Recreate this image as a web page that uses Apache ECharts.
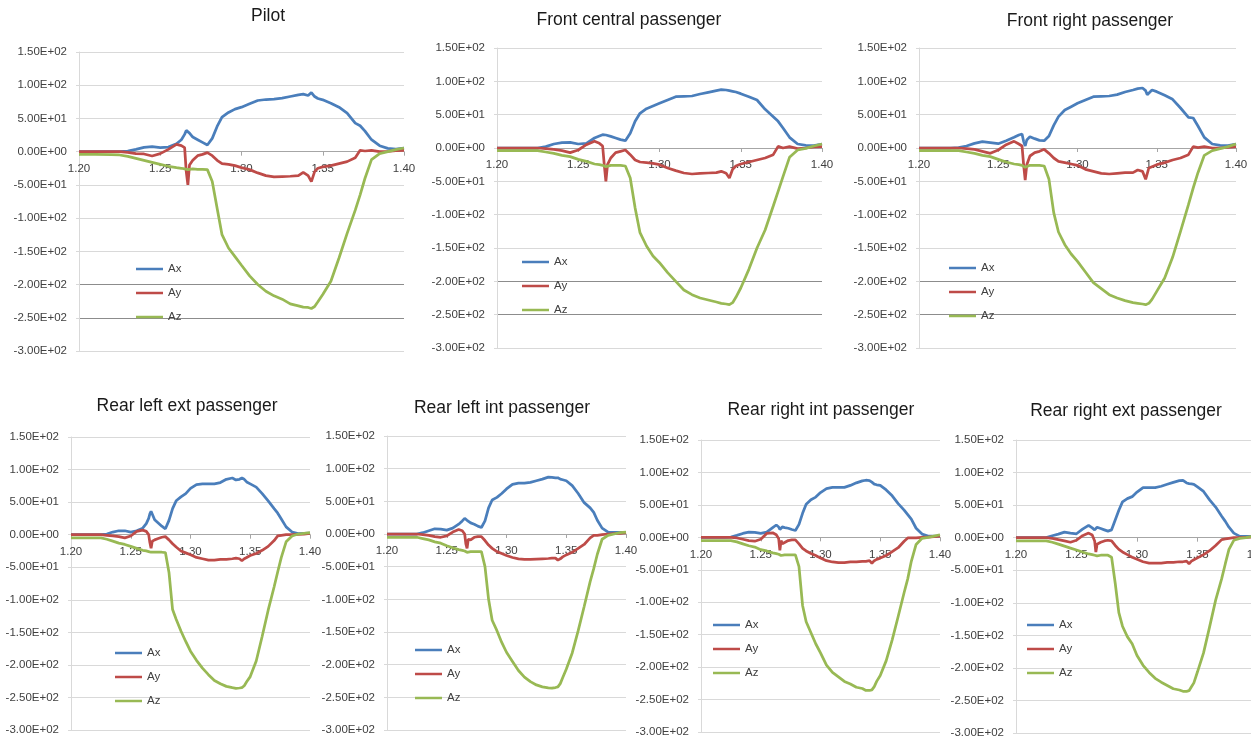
<!DOCTYPE html>
<html>
<head>
<meta charset="utf-8">
<title>Accelerations per seat</title>
<script src="https://cdn.jsdelivr.net/npm/echarts@6/dist/echarts.min.js"></script>
<style>
  html, body { margin: 0; padding: 0; background: #fff; }
  #main { width: 1251px; height: 738px; }
</style>
</head>
<body>
<div id="main"></div>
<script>
// time (s), shared by all panels
const t = [1.200,1.210,1.220,1.225,1.230,1.235,1.240,1.245,1.250,1.255,1.260,1.263,1.265,1.266,1.267,1.268,1.270,1.273,1.276,1.279,
  1.282,1.285,1.288,1.292,1.296,1.300,1.305,1.310,1.315,1.320,1.325,1.330,1.335,1.338,1.341,1.343,1.344,1.345,1.347,1.350,
  1.355,1.360,1.365,1.370,1.373,1.376,1.380,1.385,1.390,1.395,1.400];

const xTicks = [1.20, 1.25, 1.30, 1.35, 1.40];
const xTickLabels = ["1.20", "1.25", "1.30", "1.35", "1.40"];
const yTicks = [-300, -250, -200, -150, -100, -50, 0, 50, 100, 150];
const yTickLabels = ["-3.00E+02", "-2.50E+02", "-2.00E+02", "-1.50E+02", "-1.00E+02", "-5.00E+01", "0.00E+00", "5.00E+01", "1.00E+02", "1.50E+02"];

const seriesNames = ["Ax", "Ay", "Az"];
const titles = ["Pilot", "Front central passenger", "Front right passenger", "Rear left ext passenger",
  "Rear left int passenger", "Rear right int passenger", "Rear right ext passenger"];

// Pilot
const pilotAx = [0,0,0,0,1,3.5,6.5,7.5,6,7,12,18,26,32,34,28,22,18,14,10,20,38,52,59,64,67,72,77,78.5,79,80.5,83,85.5,86.5,84.5,89,88,83,80,78,73,67,58,43,39,31,18,9,5,4,5.5];
const pilotAy = [0,0,0,0,-1,-3,-3.5,-6.5,-3,3.5,11,9,6,-30,-50,-20,-13,-6,-4,-1.5,-6,-13,-18,-19,-21,-24,-27,-32,-36,-38,-37.5,-37,-36,-31,-36,-45,-48,-30,-25,-23,-21,-18,-15,-9,2,1,2,0,0.5,1.5,2];
const pilotAz = [-4,-4,-4.5,-5,-7,-10,-13,-16,-19,-22,-24,-25,-26,-28,-27,-26,-26,-26.5,-26.5,-27,-45,-85,-125,-145,-158,-171,-187,-200,-210,-217,-222,-229,-232,-234,-234.5,-236,-236,-233,-226,-215,-195,-160,-123,-88,-65,-40,-12,-3,0,3,5.5];

// Front central passenger
const frontCentralAx = [0,0,0,0,2,6,8,8.5,6,7,15,18,20,20,19.5,19,17.5,15,12.5,11,22,40,52,59,63,67,72,77,77.5,78,81,83.5,86,87.5,87,86,85.5,85,84,81.5,77,72,58,47,40,30,16,6,4,3.5,6];
const frontCentralAy = [0,0,0,0,-1,-2,-4,-7,-3,5,10,7,3,-25,-50,-25,-15,-7,-5,-3,-10,-18,-21,-22,-23,-25,-30,-34,-37.5,-39,-38,-37.5,-37,-35,-38,-45,-48,-32,-27,-24,-21,-18,-15,-10,2.5,0,2,-1,0,1.5,2];
const frontCentralAz = [-4,-4,-4,-4,-6,-8,-11,-13,-17,-20,-24,-25,-26,-27,-28,-27,-26,-26,-26,-27,-45,-90,-127,-147,-162,-172,-187,-200,-213,-220,-225,-228,-231,-233,-234,-235,-235,-232,-224,-210,-182,-150,-123,-87,-65,-43,-14,-3,-0.5,3,6];

// Front right passenger
const frontRightAx = [0,0,0,0.5,3,7,9.5,8,6.5,11,16,19.5,21,10,3,12,17,14,11.5,11,18,34,47,57,62,67,72,77,77.5,78,80,84,87,89,90,86,80,82,87,84.5,79,73,60,46,45,33,16,6,4,3.5,6];
const frontRightAy = [0,0,0,0,-1,-2,-5,-8,-3,5,10,6,3,-25,-48,-25,-12,-7,-5,-2,-8,-15,-20,-22,-24,-26,-32,-35,-38,-39,-38,-37,-37,-33,-35,-47,-45,-30,-28,-25,-22,-18,-15,-10,2,0.5,2,0,0,1,2];
const frontRightAz = [-4,-4,-4,-4,-6,-8,-11,-13,-17,-21,-24,-25,-26,-28,-29,-27,-26,-26,-26,-27,-47,-97,-126,-145,-159,-170,-186,-202,-211,-220,-225,-229,-232,-233,-234,-235,-235,-233,-227,-215,-195,-164,-125,-85,-60,-37,-11,-4,-1,2,6];

// Rear left ext passenger
const rearLeftExtAx = [0,0,0,0,1,4,6,6,4,6,10,17,25,32,36,33,23,18,13,9,22,40,52,58,63,71,77,78,78,78,80,85,87,84,85,87,88,85,81,78,73,63,52,40,33,24,12,4,1.5,2,2.5];
const rearLeftExtAy = [0,0,0,0,-1,-2,-3,-5,-2,5,7,5,0,-12,-21,-10,-8,-6,-4,-3,-8,-14,-19,-25,-28,-31,-35,-37,-39,-39,-38,-38,-37,-36,-37,-40,-41,-37,-35,-32,-29,-24,-18,-9,-2,-1,0,0,0.5,1,2];
const rearLeftExtAz = [-5,-5,-5,-5,-7,-10,-13,-15,-18,-21,-24,-25,-26,-26.5,-27,-27,-27,-27,-27,-27.5,-58,-115,-130,-148,-164,-179,-193,-205,-215,-224,-229,-233,-235,-236,-235.5,-235,-234,-232,-226,-218,-194,-156,-116,-80,-57,-35,-11,-2,1,2,3];

// Rear left int passenger
const rearLeftIntAx = [0,0,0,0,2,5,8,7.5,6,9,15,20,24,23,21,19,17,15,12,10,20,40,52,56,62,69,76,78,78,79,81.5,84,87,86.5,86,86,85,84,83,81.5,74,62,48,40,33,21,9,3,2.5,2.5,2.5];
const rearLeftIntAy = [0,0,0,0,-1,-2,-4,-5,-3,3,7,5,0,-15,-22,-8,-9,-5,-4,-4,-10,-17,-22,-27,-30,-33,-36,-38,-39,-39,-38.5,-38,-37.5,-37,-37,-40,-42,-38,-35,-32,-28,-22,-16,-6,-2,-2,-1,0,0.5,1,2];
const rearLeftIntAz = [-5,-5,-5,-5,-7,-9,-12,-14,-18,-21,-24,-25,-26,-27,-28,-27,-27,-27,-27,-27,-50,-100,-132,-148,-166,-181,-195,-209,-219,-226,-231,-234,-235.5,-236,-235,-234,-232,-229,-220,-207,-182,-148,-111,-73,-53,-31,-8,-2,0,2,3];

// Rear right int passenger
const rearRightIntAx = [0,0,0,0.5,3,6,8,7.5,6,8,15,19,16,12,15,16,15,14,12,10.5,20,37,51,58,62,69,75,77,77,77,80,84,87,88,87.5,85,83,82,81,80,73,64,52,42,35,28,14,5,2,2,2];
const rearRightIntAy = [0,0,0,0,-1,-3,-5,-6,-3,6,7,4,-2,-20,-5,-10,-8,-5,-4,-4,-10,-17,-21,-25,-28,-32,-36,-38,-39,-39,-38,-38,-37,-37,-36,-40,-41,-36,-34,-32,-28,-22,-16,-6,-1,-1,-1,0,0.5,1,2];
const rearRightIntAz = [-5,-5,-5,-5,-7,-10,-13,-15,-19,-21,-24,-25,-26,-27,-28,-27,-27,-27,-27,-27,-45,-105,-130,-147,-164,-178,-197,-208,-215,-222,-226,-231,-233,-236,-236,-235,-234,-230,-222,-213,-190,-158,-122,-85,-64,-37,-11,-1.5,0,2,4];

// Rear right ext passenger
const rearRightExtAx = [0,0,0,0,3,5.5,8.5,7,6,13,19,15,12,15,16,15,14,12,10,12,27,42,55,60,63,70,77,77,77,79,82,85,87.5,88,84,83,82.5,82.5,82,78,71,58,47,33,25,16,7,2,2,2,2];
const rearRightExtAy = [0,0,0,0,-1,-3,-5,-7,-4,3,7,4,-5,-22,-10,-8,-7,-5,-4,-5,-12,-18,-22,-26,-30,-33,-37,-39,-39,-39,-38,-38,-37,-37,-36,-40,-41,-36,-34,-31,-26,-20,-12,-3,-2,-1,0,0,0.5,1,2];
const rearRightExtAz = [-5,-5,-5,-5,-7,-10,-13,-16,-19,-22,-25,-26,-27,-27.5,-28,-27,-27,-27,-27,-30,-70,-115,-136,-152,-163,-181,-196,-207,-216,-222,-227,-232,-234,-236,-236,-235,-232,-229,-223,-206,-177,-137,-96,-63,-40,-18,-4,-1,0,2,4];

const panelData = [
  [pilotAx, pilotAy, pilotAz],
  [frontCentralAx, frontCentralAy, frontCentralAz],
  [frontRightAx, frontRightAy, frontRightAz],
  [rearLeftExtAx, rearLeftExtAy, rearLeftExtAz],
  [rearLeftIntAx, rearLeftIntAy, rearLeftIntAz],
  [rearRightIntAx, rearRightIntAy, rearRightIntAz],
  [rearRightExtAx, rearRightExtAy, rearRightExtAz]
];

// layout of the seven small charts (plot box, title centre, legend corner)
const layout = [
  { left: 79, top: 52, width: 325, height: 299, titleX: 268, titleY: 7, legX: 136, legY: 262, darkGrid: true },
  { left: 497, top: 48, width: 325, height: 300, titleX: 629, titleY: 11, legX: 522, legY: 255, darkGrid: true },
  { left: 919, top: 48, width: 317, height: 300, titleX: 1090, titleY: 12, legX: 949, legY: 261, darkGrid: true },
  { left: 71, top: 437, width: 239, height: 293, titleX: 187, titleY: 397, legX: 115, legY: 646, darkGrid: false },
  { left: 387, top: 436, width: 239, height: 294, titleX: 502, titleY: 399, legX: 415, legY: 643, darkGrid: false },
  { left: 701, top: 440, width: 239, height: 292, titleX: 821, titleY: 401, legX: 713, legY: 618, darkGrid: false },
  { left: 1016, top: 440, width: 242, height: 293, titleX: 1126, titleY: 402, legX: 1027, legY: 618, darkGrid: false }
];

const colors = ["#4a7ebb", "#be4b48", "#98b954"];
const font = "Liberation Sans, Arial, sans-serif";
const light = "#d9d9d9";
const dark = "#8c8c8c";

const chart = echarts.init(document.getElementById("main"));

const grid = [], xAxis = [], yAxis = [], series = [], title = [], legend = [];

layout.forEach((p, k) => {
  grid.push({ left: p.left, top: p.top, width: p.width, height: p.height, containLabel: false, outerBoundsMode: "none" });
  title.push({
    text: titles[k], left: p.titleX, top: p.titleY, textAlign: "center", padding: 0,
    textStyle: { fontFamily: font, fontSize: 17.5, fontWeight: "normal", color: "#1a1a1a" }
  });
  legend.push({
    data: seriesNames, orient: "vertical", left: p.legX, top: p.legY, padding: 0,
    icon: "rect", itemWidth: 27, itemHeight: 2.5, itemGap: 10, selectedMode: false,
    textStyle: { fontFamily: font, fontSize: 11.5, color: "#404040", lineHeight: 14 }
  });
  // the time axis sits on the zero line: 300 of the 450 units lie below it
  xAxis.push({
    gridIndex: k, type: "value", min: 1.2, max: 1.4, interval: 0.05,
    position: "bottom", offset: -p.height * 300 / 450,
    axisLine: { show: true, onZero: false, lineStyle: { color: "#a6a6a6", width: 1 } },
    axisTick: { show: true, length: 4, lineStyle: { color: "#a6a6a6" } },
    splitLine: { show: false },
    axisLabel: {
      margin: 11, fontFamily: font, fontSize: 11.5, color: "#404040", hideOverlap: false,
      formatter: v => { const i = xTicks.findIndex(x => Math.abs(x - v) < 1e-6); return i >= 0 ? xTickLabels[i] : ""; }
    }
  });
  yAxis.push({
    gridIndex: k, type: "value", min: -300, max: 150, interval: 50,
    axisLine: { show: true, lineStyle: { color: light } },
    axisTick: { show: true, length: 3, lineStyle: { color: light } },
    splitLine: {
      show: true,
      lineStyle: {
        width: 1,
        color: p.darkGrid ? [light, dark, dark, light, light, light, light, light, light, light] : light
      }
    },
    axisLabel: {
      margin: 12, fontFamily: font, fontSize: 11.5, color: "#404040",
      formatter: v => { const i = yTicks.indexOf(Math.round(v)); return i >= 0 ? yTickLabels[i] : ""; }
    }
  });
  panelData[k].forEach((vals, s) => {
    series.push({
      name: seriesNames[s], type: "line", xAxisIndex: k, yAxisIndex: k,
      symbol: "none", smooth: false, animation: false,
      color: colors[s],
      lineStyle: { color: colors[s], width: 2.75 },
      data: t.map((x, i) => [x, vals[i]])
    });
  });
});

chart.setOption({
  backgroundColor: "#ffffff",
  animation: false,
  title, legend, grid, xAxis, yAxis, series
});
</script>
</body>
</html>
